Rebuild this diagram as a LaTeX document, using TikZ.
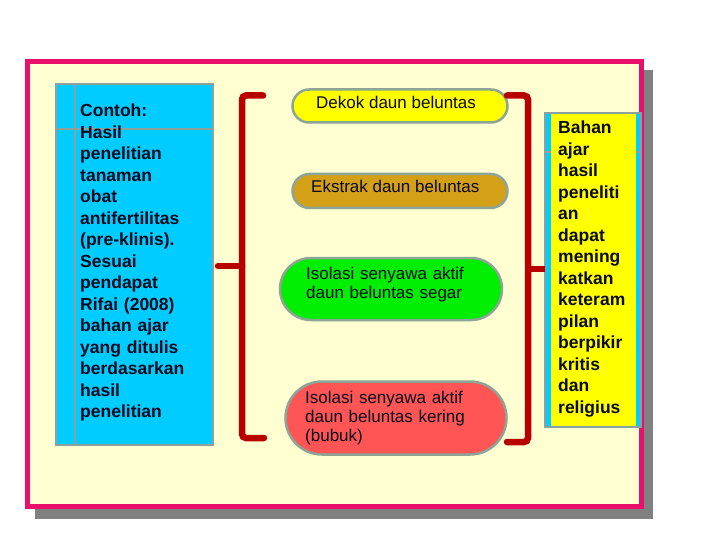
\documentclass[tikz,border=0pt]{standalone}
\usepackage{fontspec}
\setmainfont{Liberation Sans}
\usetikzlibrary{shapes.misc}
\definecolor{pinkc}{RGB}{232,16,108}
\definecolor{bgc}{RGB}{255,255,210}
\definecolor{shadowc}{RGB}{128,128,128}
\definecolor{cyanc}{RGB}{0,204,255}
\definecolor{boxgray}{RGB}{140,160,160}
\definecolor{brred}{RGB}{185,0,0}
\definecolor{goldc}{RGB}{212,160,23}
\definecolor{greenc}{RGB}{0,238,0}
\definecolor{redc}{RGB}{255,85,85}
\definecolor{yelc}{RGB}{255,255,0}
\definecolor{pillgray}{RGB}{140,165,150}
\definecolor{txtc}{RGB}{10,10,30}
\tikzset{
  pill/.style={rounded rectangle, draw=pillgray, line width=2.5pt, inner sep=0pt},
  bigtxt/.style={font=\fontsize{17.5}{21.5}\selectfont\bfseries, text=txtc, inner sep=0pt, align=left, anchor=base west},
  pilltxt/.style={font=\fontsize{17}{19}\selectfont, text=txtc, inner sep=0pt, align=left, anchor=base west},
  bracket/.style={draw=brred, line width=6.5pt, rounded corners=4pt, line cap=round},
}
\begin{document}
\begin{tikzpicture}[x=1pt,y=-1pt]
\useasboundingbox (0,0) rectangle (720,540);
% shadow and frame
\fill[shadowc] (35,70) rectangle (653,519);
\draw[pinkc, line width=5pt, fill=bgc] (27,62) rectangle (641,506);
% left box
\draw[boxgray, line width=2.5pt, fill=cyanc] (56,84) rectangle (213,445);
\draw[boxgray, line width=2pt] (75,84) -- (75,445) (56,129) -- (213,129);
\node[bigtxt, text width=130pt] (lt) at (80,117) {Contoh:\\Hasil\\penelitian\\tanaman\\obat\\antifertilitas\\(pre-klinis).\\Sesuai\\pendapat\\Rifai (2008)\\bahan ajar\\yang ditulis\\berdasarkan\\hasil\\penelitian};
% pills
\node[pill, fill=yelc, minimum width=215pt, minimum height=33pt] (p1) at (400,106) {};
\node[pill, fill=goldc, minimum width=215pt, minimum height=34pt] (p2) at (400,191) {};
\node[pill, fill=greenc, minimum width=222pt, minimum height=62pt] (p3) at (391,289) {};
\node[pill, fill=redc, minimum width=221pt, minimum height=73pt] (p4) at (396,418) {};
\node[pilltxt] (t1) at (316,109) {Dekok daun beluntas};
\node[pilltxt] (t2) at (311,193) {Ekstrak daun beluntas};
\node[pilltxt, text width=180pt] (t3) at (306,279) {Isolasi senyawa aktif\\daun beluntas segar};
\node[pilltxt, text width=180pt] (t4) at (305,403) {Isolasi senyawa aktif\\daun beluntas kering\\(bubuk)};
% brackets
\coordinate (lb1) at (263,95.5);
\coordinate (lb2) at (242,95.5);
\coordinate (lb3) at (242,438);
\coordinate (lb4) at (264,438);
\coordinate (lbm) at (242,266);
\coordinate (lbt) at (218,266);
\draw[bracket] (lb1) -- (lb2) -- (lb3) -- (lb4);
\draw[bracket] (lbm) -- (lbt);
\coordinate (rb1) at (507,95.5);
\coordinate (rb2) at (528,95.5);
\coordinate (rb3) at (528,442);
\coordinate (rb4) at (507,442);
\coordinate (rbm) at (528,269);
% right box
\draw[boxgray, line width=2pt, fill=cyanc] (545,113) rectangle (641,427);
\fill[yelc] (551,114) rectangle (636,426);
\draw[boxgray, line width=1.5pt] (545,152) -- (551,152) (636,152) -- (641,152);
\node[bigtxt, text width=80pt] (rt) at (558,134) {Bahan\\ajar\\hasil\\peneliti\\an\\dapat\\mening\\katkan\\keteram\\pilan\\berpikir\\kritis\\dan\\religius};
\draw[bracket] (rb1) -- (rb2) -- (rb3) -- (rb4);
\draw[bracket, line cap=butt] (rbm) -- (545,269);
\end{tikzpicture}
\end{document}
